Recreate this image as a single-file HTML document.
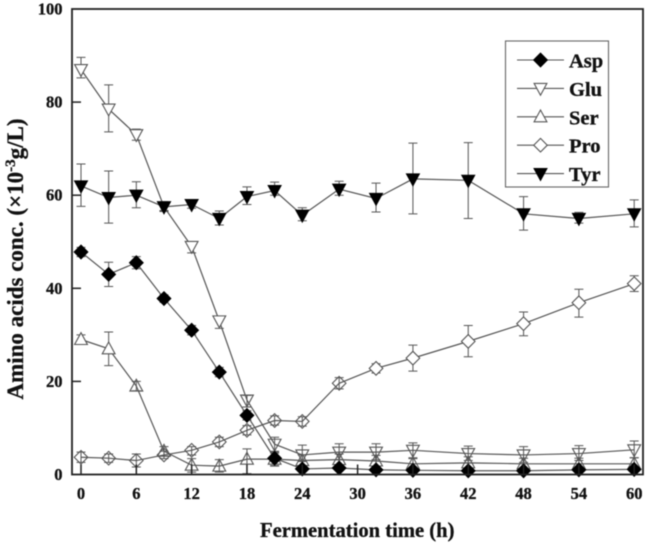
<!DOCTYPE html>
<html lang="en">
<head>
<meta charset="utf-8">
<title>Amino acids during fermentation</title>
<style>
html,body{margin:0;padding:0;background:#fff;}
body{width:645px;height:543px;overflow:hidden;}
svg{display:block;filter:blur(0.4px);}
text{font-family:"Liberation Serif",serif;font-weight:bold;fill:#111;stroke:#111;stroke-width:0.3px;}
</style>
</head>
<body>
<svg id="chart" xmlns="http://www.w3.org/2000/svg" width="645" height="543" viewBox="0 0 645 543"></svg>
<script>
const times = [0,3,6,9,12,15,18,21,24,28,32,36,42,48,54,60];
const xTickLabels = [0,6,12,18,24,30,36,42,48,54,60];
const yTickLabels = [0,20,40,60,80,100];
const seriesNames = ["Asp","Glu","Ser","Pro","Tyr"];

const aspValues = [47.8,43,45.5,37.8,31,22,12.7,3.5,1.2,1.4,1,0.9,0.8,0.8,1,1.1];
const aspHigh   = [48.8,45.6,46.8,38.6,32,23,13.7,4.8,1.7,1.9,1.4,1.2,1.1,1.1,1.3,1.5];
const aspLow    = [46.8,40.4,44.2,37,30,21,11.7,1.9,0.7,0.9,0.6,0.6,0.5,0.5,0.7,0.7];

const gluValues = [87,78.5,73,57.5,49,33,16,6.5,4.2,4.8,4.8,5.2,4.5,4.2,4.5,5.3];
const gluHigh   = [89.6,83.7,74.2,58.6,50,34,17,8,6.3,6.6,6.6,6.8,6.1,6,6.2,7.2];
const gluLow    = [85.2,73.6,71.8,56.5,47.6,31.4,14.5,5,2.8,3.2,3.2,3.4,3,2.6,3,3.6];

const serValues = [29,27,19,5,2,1.8,3.3,3.3,3,3.2,2.9,2.3,2.5,2.3,2.3,2.3];
const serHigh   = [30,30.6,20,6,3.4,3.2,5.5,4.6,4.2,4.4,4.1,3.6,3.8,3.5,3.5,3.6];
const serLow    = [28,23.4,18,4,0.5,0.5,0.2,1.8,1.6,1.8,1.6,1,1.2,1,1,1];

const proValues = [3.7,3.5,3,4.2,5.2,7,9.5,11.6,11.4,19.6,22.8,25,28.6,32.4,36.9,41];
const proHigh   = [4.8,4.4,4.4,5,6,8,10.5,12.6,12.4,20.8,23.8,27.8,32,34.9,39.8,42.7];
const proLow    = [2.6,2.6,1.6,3.4,4.2,6,8.5,10.6,10.4,18.4,21.8,22.2,25.3,29.8,33.8,39.3];

const tyrValues = [62,59.5,60,57.5,58,55,59.7,61,55.7,61.3,59.3,63.5,63.2,56,55,56];
const tyrHigh   = [66.7,65.2,62.9,58.3,58.8,56.6,61.8,62.8,57.3,63,62.6,71.2,71.3,59.7,56.3,59];
const tyrLow    = [57.6,54,57.3,56.7,57.2,53.6,58,60,54.5,60,56.4,56,55,52.5,54,53.2];

const svg = document.getElementById('chart');
const NS = 'http://www.w3.org/2000/svg';
const plotLeft = 72, plotRight = 643, plotTop = 9, plotBottom = 474.5;
const x0 = 81, xPerHour = 9.22;
const xScale = t => x0 + t * xPerHour;
const yScale = v => plotBottom - v * (plotBottom - plotTop) / 100;
const lineGray = '#555';

function mk(tag, attrs, parent) {
  const n = document.createElementNS(NS, tag);
  for (const k in attrs) n.setAttribute(k, attrs[k]);
  (parent || svg).appendChild(n);
  return n;
}

function drawMarker(kind, cx, cy, parent, hollow) {
  let pts;
  if (kind === 'Asp' || kind === 'Pro') {
    pts = [[cx, cy-6.8],[cx+6.8, cy],[cx, cy+6.8],[cx-6.8, cy]];
  } else if (kind === 'Glu' || kind === 'Tyr') {
    pts = [[cx-6.4, cy-5],[cx+6.4, cy-5],[cx, cy+6.8]];
  } else {
    pts = [[cx-6.4, cy+5],[cx+6.4, cy+5],[cx, cy-6.8]];
  }
  const solid = kind === 'Asp' || kind === 'Tyr';
  return mk('polygon', {
    points: pts.map(p => p.join(',')).join(' '),
    fill: solid ? '#000' : (hollow ? 'none' : '#fff'),
    stroke: solid ? '#000' : '#555',
    'stroke-width': 1.1
  }, parent);
}

function drawError(t, hi, lo, parent) {
  const x = xScale(t), yh = yScale(hi), yl = yScale(lo);
  const d = 'M' + x + ' ' + yh + 'V' + yl + 'M' + (x-4.5) + ' ' + yh + 'H' + (x+4.5) + 'M' + (x-4.5) + ' ' + yl + 'H' + (x+4.5);
  return mk('path', {d: d, fill: 'none', stroke: lineGray, 'stroke-width': 1}, parent);
}

function drawSeries(name, values, high, low) {
  const g = mk('g', {});
  
  

  const line = mk('polyline', {
    points: times.map((t, i) => xScale(t) + ',' + yScale(values[i])).join(' '),
    fill: 'none', stroke: lineGray, 'stroke-width': 1.2
  }, g);
  
  

  times.forEach((t, i) => {
    const e = drawError(t, high[i], low[i], g);
    
    
    const m = drawMarker(name, xScale(t), yScale(values[i]), g, values[i] < 20);
    
    
  });
}

/* series */
drawSeries('Pro', proValues, proHigh, proLow);
drawSeries('Ser', serValues, serHigh, serLow);
drawSeries('Glu', gluValues, gluHigh, gluLow);
drawSeries('Asp', aspValues, aspHigh, aspLow);
drawSeries('Tyr', tyrValues, tyrHigh, tyrLow);

/* frame */
const frame = mk('rect', {x: plotLeft, y: plotTop, width: plotRight - plotLeft, height: plotBottom - plotTop, fill: 'none', stroke: '#222', 'stroke-width': 1.8});



/* x ticks */
xTickLabels.forEach(v => {
  const tick = mk('line', {x1: xScale(v), x2: xScale(v), y1: plotBottom, y2: plotBottom - 10, stroke: '#222', 'stroke-width': 1.5});
  
  
  const label = mk('text', {x: xScale(v), y: 499, 'text-anchor': 'middle', 'font-size': 16.5});
  label.textContent = v;
  
  
});

/* y ticks */
yTickLabels.forEach(v => {
  if (v > 0 && v < 100) {
    const tick = mk('line', {x1: plotLeft, x2: plotLeft + 9, y1: yScale(v), y2: yScale(v), stroke: '#222', 'stroke-width': 1.5});
    
    
  }
  const label = mk('text', {x: 62.5, y: yScale(v) + 5.5, 'text-anchor': 'end', 'font-size': 16.5});
  label.textContent = v;
  
  
});

/* axis titles */
const xTitle = mk('text', {x: 260, y: 537, 'font-size': 20.6});
xTitle.textContent = 'Fermentation time (h)';



const yTitle = mk('text', {x: 0, y: 0, 'font-size': 23, 'text-anchor': 'middle', transform: 'translate(23,259) rotate(-90)'});


yTitle.appendChild(document.createTextNode('Amino acids conc. (×10'));
const sup = mk('tspan', {dy: -8, 'font-size': 15}, yTitle);
sup.textContent = '-3';
const rest = mk('tspan', {dy: 8}, yTitle);
rest.textContent = 'g/L)';

/* legend */
const legend = mk('g', {});


const legendBox = mk('rect', {x: 505.5, y: 41, width: 103, height: 146, fill: '#fff', stroke: '#666', 'stroke-width': 1.1}, legend);


seriesNames.forEach((name, i) => {
  const ry = 61 + i * 28.4;
  const entry = mk('g', {}, legend);
  
  
  mk('line', {x1: 517, x2: 564, y1: ry - 1, y2: ry - 1, stroke: lineGray, 'stroke-width': 1.1}, entry);
  drawMarker(name, 540.5, ry - 1, entry, false);
  const label = mk('text', {x: 569, y: ry + 6.5, 'font-size': 20.5}, entry);
  label.textContent = name;
});
</script>
</body>
</html>
